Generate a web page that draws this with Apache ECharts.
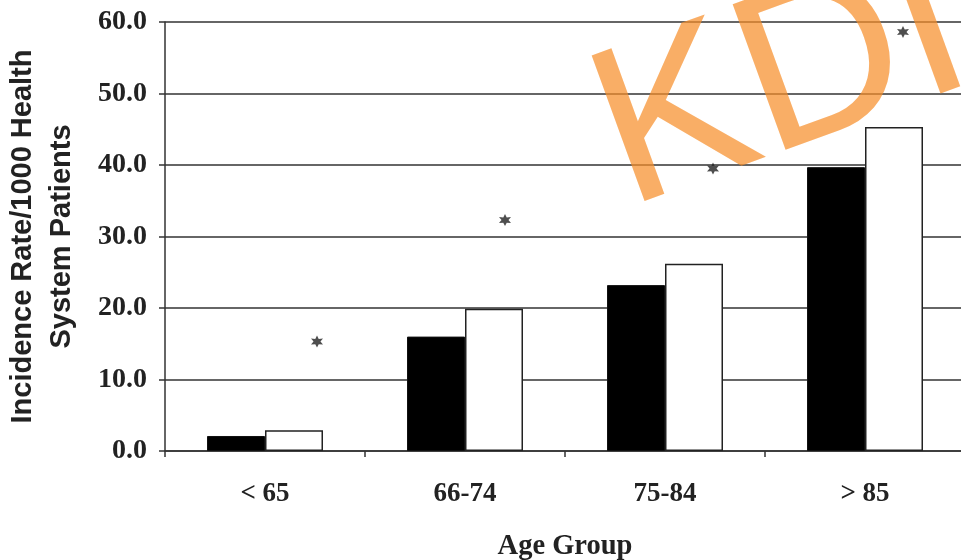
<!DOCTYPE html>
<html>
<head>
<meta charset="utf-8">
<script src="https://cdn.jsdelivr.net/npm/echarts@6/dist/echarts.min.js"></script>
<style>
  html, body { margin: 0; padding: 0; background: #fff; }
  #chart { width: 961px; height: 560px; }
</style>
</head>
<body>
<div id="chart"></div>
<script>
// Age groups on the category axis
const ageGroups = ['< 65', '66-74', '75-84', '> 85'];
// Incidence rate per 1000 health system patients
const seriesDark = [2.1, 16.0, 23.2, 39.7];
const seriesLight = [2.9, 19.9, 26.2, 45.3];
// Significance markers (x in category units, y in rate units)
const starX = [0.26, 1.20, 2.24, 3.19];
const starY = [15.3, 32.3, 39.5, 58.6];
// Value axis ticks
const yMin = 0, yMax = 60, yStep = 10;

// Six-pointed asterisk outline
function asteriskPath() {
  const pts = [];
  for (let i = 0; i < 12; i++) {
    const r = i % 2 === 0 ? 10 : 5;
    const a = -Math.PI / 2 + i * Math.PI / 6;
    pts.push((10 + r * Math.cos(a)).toFixed(2) + ' ' + (10 + r * Math.sin(a)).toFixed(2));
  }
  return 'path://M' + pts.join(' L') + ' Z';
}

const serif = '"Liberation Serif", "Times New Roman", serif';
const sans = '"Liberation Sans", Arial, sans-serif';
const lineColor = '#333';

const chart = echarts.init(document.getElementById('chart'), null, { renderer: 'canvas' });
chart.setOption({
  backgroundColor: '#fff',
  animation: false,
  grid: { left: 165, top: 22, width: 800, height: 429, containLabel: false, outerBoundsMode: 'none' },
  xAxis: [{
    type: 'category',
    data: ageGroups,
    name: 'Age Group',
    nameLocation: 'middle',
    nameGap: 81,
    nameTextStyle: { fontFamily: serif, fontWeight: 'bold', fontSize: 28.5, color: '#222' },
    axisLine: { lineStyle: { color: lineColor, width: 1.5 } },
    axisTick: { show: true, length: 6, lineStyle: { color: lineColor, width: 1.5 } },
    axisLabel: { margin: 30, fontFamily: serif, fontWeight: 'bold', fontSize: 27, color: '#222' },
    splitLine: { show: false }
  }, {
    type: 'value',
    min: -0.5, max: 3.5,
    show: false
  }],
  yAxis: {
    type: 'value',
    min: yMin, max: yMax, interval: yStep,
    name: 'Incidence Rate/1000 Health\nSystem Patients',
    nameLocation: 'middle',
    nameGap: 84,
    nameTextStyle: { fontFamily: sans, fontWeight: 'bold', fontSize: 29, lineHeight: 39, color: '#222' },
    axisLine: { show: true, onZero: false, lineStyle: { color: lineColor, width: 1.5 } },
    axisTick: { show: true, length: 6, lineStyle: { color: lineColor, width: 1.5 } },
    axisLabel: {
      margin: 18, fontFamily: serif, fontWeight: 'bold', fontSize: 28, color: '#222',
      formatter: v => v.toFixed(1)
    },
    splitLine: { show: true, lineStyle: { color: lineColor, width: 1.5 } }
  },
  series: [{
    type: 'bar',
    data: seriesDark,
    barWidth: 58,
    barGap: '0%',
    itemStyle: { color: '#000', borderColor: '#111', borderWidth: 1 }
  }, {
    type: 'bar',
    data: seriesLight,
    barWidth: 58,
    itemStyle: { color: '#fff', borderColor: '#222', borderWidth: 1.5 }
  }, {
    type: 'scatter',
    xAxisIndex: 1,
    data: starX.map((x, i) => [x, starY[i]]),
    symbol: asteriskPath(),
    symbolSize: 12,
    itemStyle: { color: '#222' },
    z: 5
  }],
  graphic: [{
    type: 'text',
    x: 606, y: 149,
    rotation: 20 * Math.PI / 180,
    z: 100,
    silent: true,
    style: {
      text: 'KDI',
      fontFamily: sans,
      fontSize: 225,
      fill: 'rgba(247,143,43,0.72)',
      align: 'left',
      verticalAlign: 'middle'
    }
  }]
});
</script>
</body>
</html>
